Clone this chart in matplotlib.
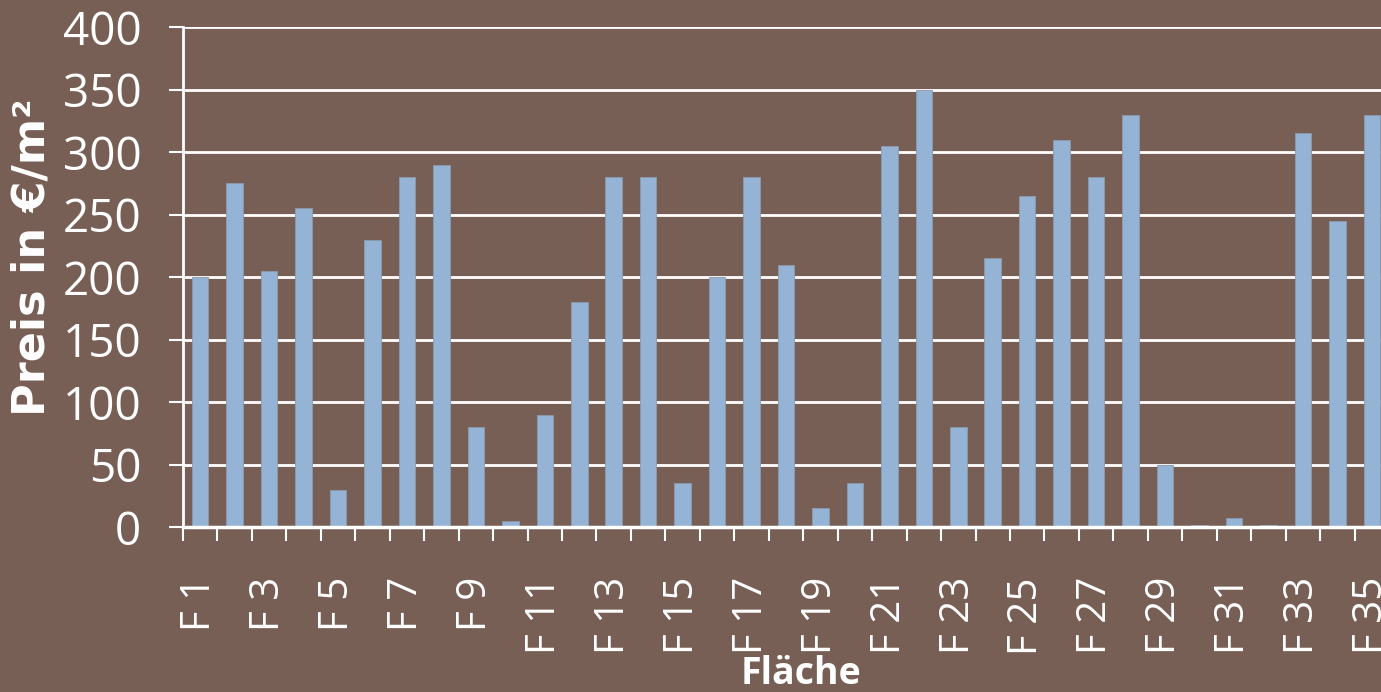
import matplotlib
matplotlib.use("Agg")
import matplotlib.pyplot as plt
import numpy as np

# ── Data ──────────────────────────────────────────────────────────────────────
flaechen = [f"F {i}" for i in range(1, 36)]
preise = [200, 275, 205, 255, 30, 230, 280, 290, 80, 5,
          90, 180, 280, 280, 35, 200, 280, 210, 15, 35,
          305, 350, 80, 215, 265, 310, 280, 330, 50, 2,
          7, 2, 315, 245, 330]
y_ticks = [0, 50, 100, 150, 200, 250, 300, 350, 400]

# ── Colors ────────────────────────────────────────────────────────────────────
BG = "#785F55"
BAR = "#95B3D4"
WHITE = "#FFFFFF"

plt.rcParams["font.family"] = ["Open Sans", "DejaVu Sans"]

fig = plt.figure(figsize=(13.81, 6.92), dpi=100)
fig.patch.set_facecolor(BG)
ax = fig.add_axes([0.1325, 0.2384, 0.8733, 0.7225])
ax.set_facecolor(BG)

x = np.arange(len(flaechen))
ax.bar(x, preise, width=0.48, color=BAR, edgecolor="#8A9AAE", linewidth=0.6, zorder=3)

ax.set_xlim(-0.5, len(flaechen) - 0.5)
ax.set_ylim(0, 400)
ax.set_yticks(y_ticks)
ax.set_yticklabels([str(v) for v in y_ticks])
ax.grid(axis="y", color=WHITE, linewidth=2, zorder=1)

# category boundary ticks on x, labels on every second bar
ax.set_xticks(np.arange(-0.5, len(flaechen)), minor=False)
ax.set_xticklabels([])
ax.set_xticks(x[::2], minor=True)
ax.set_xticklabels(flaechen[::2], minor=True, rotation=90, fontsize=29,
                   color=WHITE, va="top", ha="center")
ax.tick_params(axis="x", which="major", length=10, width=1.5, color=WHITE, direction="out")
ax.tick_params(axis="x", which="minor", length=0, pad=36)
ax.tick_params(axis="y", length=10, width=1.5, color=WHITE, labelsize=33,
               labelcolor=WHITE, pad=20)

for side in ["top", "right"]:
    ax.spines[side].set_visible(False)
ax.spines["left"].set_color(WHITE)
ax.spines["left"].set_linewidth(2)
ax.spines["bottom"].set_color(WHITE)
ax.spines["bottom"].set_linewidth(2.5)
ax.spines["left"].set_zorder(4)
ax.spines["bottom"].set_zorder(4)

fig.text(0.0235, 0.629, "Preis in €/m²", rotation=90, ha="center", va="center",
         fontsize=32, fontweight="bold", color=WHITE, family=["DejaVu Sans"])
fig.text(0.58, 0.012, "Fläche", ha="center", va="baseline",
         fontsize=27, fontweight="bold", color=WHITE)

plt.savefig("out.png", dpi=100, facecolor=fig.get_facecolor())
